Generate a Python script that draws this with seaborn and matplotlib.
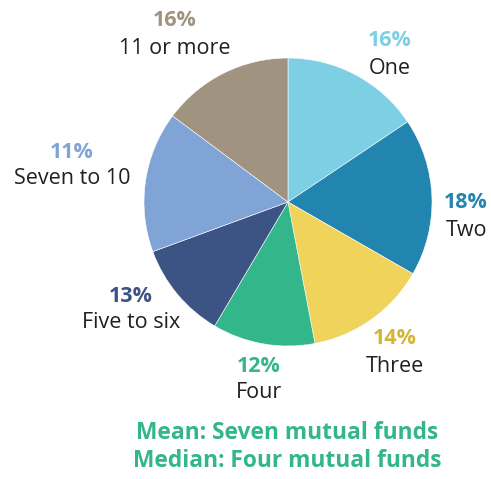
import matplotlib
matplotlib.use("Agg")
import matplotlib.pyplot as plt
import seaborn as sns

# Data
categories = ["One", "Two", "Three", "Four", "Five to six", "Seven to 10", "11 or more"]
slice_shares = [15.6, 17.7, 13.7, 11.5, 10.9, 15.8, 14.8]   # slice sizes as drawn
label_pcts = [16, 18, 14, 12, 13, 11, 16]                    # percentages as printed
summary_lines = ["Mean: Seven mutual funds", "Median: Four mutual funds"]

slice_colors = ["#7DD0E3", "#2185AF", "#F0D35B", "#33B78A", "#3C5483", "#80A4D6", "#A09380"]
pct_colors = ["#7DD0E3", "#2185AF", "#D4B53A", "#33B78A", "#3C5483", "#80A4D6", "#A09380"]

sns.set_theme(style="white")
plt.rcParams["font.family"] = ["Open Sans", "DejaVu Sans"]

W, H = 491, 479
fig = plt.figure(figsize=(W / 100, H / 100), dpi=100)
cx, cy, r = 288, 202, 144
ax = fig.add_axes([(cx - r) / W, (H - cy - r) / H, 2 * r / W, 2 * r / H])
palette = sns.color_palette(slice_colors)
ax.pie(slice_shares, colors=palette, startangle=90, counterclock=False,
       wedgeprops=dict(linewidth=0.4, edgecolor="white"), radius=1)
ax.set_xlim(-1, 1)
ax.set_ylim(-1, 1)
ax.set_aspect("equal")
ax.axis("off")

# label anchor positions (pixel centres of the text blocks)
label_px = [(390, 40), (466, 202), (395, 338), (259, 366), (131, 296), (72, 152), (175, 21)]
name_dy = [28, 28, 28, 27, 27, 26, 28]

def to_data(px, py):
    return (px - cx) / r, (cy - py) / r

for i, cat in enumerate(categories):
    px, py = label_px[i]
    x, y = to_data(px, py)
    ax.text(x, y, f"{label_pcts[i]}%", ha="center", va="center", fontsize=15.5,
            fontweight="bold", color=pct_colors[i])
    x2, y2 = to_data(px, py + name_dy[i])
    ax.text(x2, y2, cat, ha="center", va="center", fontsize=15.5, color="#231F20")

for j, line in enumerate(summary_lines):
    fig.text(287 / W, 1 - (433 + 28 * j) / H, line, ha="center", va="center",
             fontsize=16.4, fontweight="bold", color="#33B78A")

fig.savefig("out.png", dpi=100)
